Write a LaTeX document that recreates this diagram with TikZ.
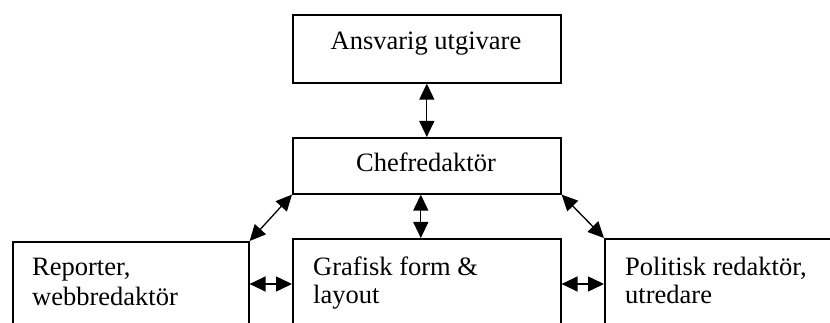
\documentclass[tikz,border=0pt]{standalone}
\usepackage{fontspec}
\setmainfont{Liberation Serif}
\usetikzlibrary{arrows.meta}
\begin{document}
\begin{tikzpicture}[x=1pt,y=-1pt,
  box/.style={draw,line width=1.6pt,inner sep=0pt,anchor=north west},
  lbl/.style={inner sep=0pt,font=\fontsize{26.5}{29}\selectfont},
  link/.style={line width=1.3pt,{Triangle[length=16pt,width=15pt]}-{Triangle[length=16pt,width=15pt]}}]
\useasboundingbox (0,0) rectangle (830,323);
\clip (0,0) rectangle (830,323);
% boxes
\node[box,minimum width=268pt,minimum height=68pt] (top) at (292,14) {};
\node[box,minimum width=268pt,minimum height=56pt] (chef) at (292,137) {};
\node[box,minimum width=236pt,minimum height=120pt] (left) at (12,241) {};
\node[box,minimum width=268pt,minimum height=120pt] (mid) at (292,238) {};
\node[box,minimum width=260pt,minimum height=120pt] (right) at (604,238) {};
% texts
\node[lbl,anchor=base] (ttop) at (426,50) {Ansvarig utgivare};
\node[lbl,anchor=base] (tchef) at (426,172) {Chefredaktör};
\node[lbl,anchor=base west] (tl1) at (32,276) {Reporter,};
\node[lbl,anchor=base west] (tl2) at (32,305) {webbredaktör};
\node[lbl,anchor=base west] (tm1) at (313,275) {Grafisk form \&};
\node[lbl,anchor=base west] (tm2) at (313,303) {layout};
\node[lbl,anchor=base west] (tr1) at (625,275) {Politisk redaktör,};
\node[lbl,anchor=base west] (tr2) at (625,303) {utredare};
% connectors
\coordinate (hy) at (0,284);
\draw[link] (top.south) -- (chef.north);
\draw[link] ([xshift=-6pt]chef.south) -- ([xshift=-6pt]mid.north);
\draw[link] (chef.south west) -- (left.north east);
\draw[link] (chef.south east) -- (right.north west);
\draw[link] (left.east |- hy) -- (mid.west |- hy);
\draw[link] (mid.east |- hy) -- (right.west |- hy);
\end{tikzpicture}
\end{document}
